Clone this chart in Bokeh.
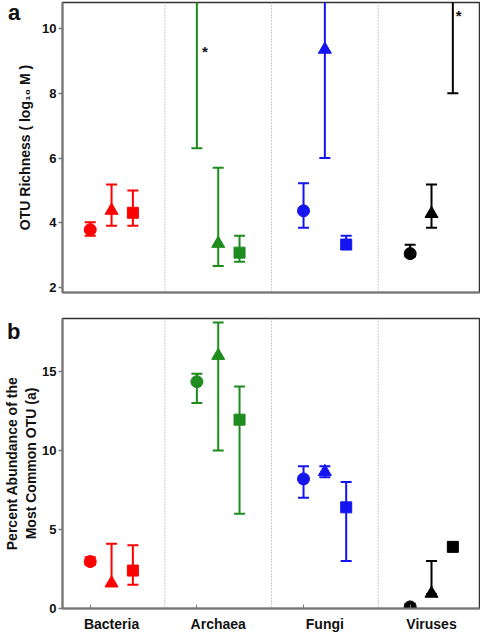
from bokeh.plotting import figure
from bokeh.models import Range1d, FixedTicker, Span, Label, ColumnDataSource, Div
from bokeh.layouts import column
from bokeh.embed import file_html
from bokeh.resources import INLINE

categories = ["Bacteria", "Archaea", "Fungi", "Viruses"]
colors = ["#ff0000", "#1e8c1e", "#1414f0", "#000000"]

# Panel a: OTU richness (log10 M) -- circle / triangle / square series
a_circle = [3.79, 12.0, 4.37, 3.05]
a_circle_lo = [3.60, 6.30, 3.85, 2.95]
a_circle_hi = [4.02, 14.0, 5.22, 3.32]
a_triangle = [4.38, 3.36, 9.35, 4.28]
a_triangle_lo = [3.91, 2.67, 6.00, 3.85]
a_triangle_hi = [5.18, 5.70, 12.5, 5.18]
a_square = [4.31, 3.08, 3.33, 11.5]
a_square_lo = [3.91, 2.80, 3.20, 8.00]
a_square_hi = [5.00, 3.60, 3.60, 13.0]
a_yticks = [2, 4, 6, 8, 10]

# Panel b: percent abundance of most common OTU (a)
b_circle = [2.97, 14.35, 8.20, 0.10]
b_circle_lo = [2.75, 13.00, 7.00, 0.00]
b_circle_hi = [3.25, 14.85, 9.00, 0.30]
b_triangle = [1.60, 16.00, 8.65, 0.95]
b_triangle_lo = [1.50, 10.00, 8.30, 0.90]
b_triangle_hi = [4.10, 18.10, 9.00, 3.00]
b_square = [2.40, 11.95, 6.40, 3.90]
b_square_lo = [1.50, 6.00, 3.00, 3.90]
b_square_hi = [4.00, 14.05, 8.00, 3.90]
b_yticks = [0, 5, 10, 15]

FONT = "Liberation Sans"
offsets = [-0.2, 0.0, 0.2]
markers = ["circle", "triangle", "square"]
msizes = [12, 13, 11]


def make_panel(series, yrange, yticks, height, border_top, border_bottom, ylabel,
               label_size, label_standoff, show_x):
    p = figure(width=480, height=height, output_backend="svg", toolbar_location=None,
               x_range=Range1d(-0.46, 3.45), y_range=Range1d(*yrange),
               min_border_left=62, min_border_right=1, min_border_top=border_top,
               min_border_bottom=border_bottom)
    p.xgrid.visible = False
    p.ygrid.visible = False
    p.outline_line_color = "#333333"
    p.outline_line_width = 1.5

    for loc in [0.5, 1.5, 2.5]:
        p.add_layout(Span(location=loc, dimension="height", line_color="#999999",
                          line_dash="1 2", line_width=1))

    for k, (vals, lo, hi) in enumerate(series):
        src = ColumnDataSource(dict(
            x=[i + offsets[k] for i in range(len(categories))],
            y=vals, lo=lo, hi=hi, color=colors))
        p.segment(x0="x", y0="lo", x1="x", y1="hi", line_color="color", line_width=2, source=src)
        p.scatter(x="x", y="lo", marker="dash", size=11, line_color="color", line_width=2, source=src)
        p.scatter(x="x", y="hi", marker="dash", size=11, line_color="color", line_width=2, source=src)
        p.scatter(x="x", y="y", marker=markers[k], size=msizes[k], fill_color="color",
                  line_color="color", source=src)

    p.yaxis.ticker = FixedTicker(ticks=yticks)
    p.yaxis.axis_line_color = "#777777"
    p.yaxis.axis_line_width = 2
    p.yaxis.major_tick_line_color = "#777777"
    p.yaxis.major_tick_line_width = 1.5
    p.yaxis.major_tick_out = 4
    p.yaxis.major_tick_in = 0
    p.yaxis.minor_tick_line_color = None
    p.yaxis.major_label_text_font = FONT
    p.yaxis.major_label_text_font_style = "bold"
    p.yaxis.major_label_text_font_size = "13px"
    p.yaxis.major_label_text_color = "#111111"
    p.yaxis.major_label_standoff = 2
    p.yaxis.axis_label = ylabel
    p.yaxis.axis_label_text_font = FONT
    p.yaxis.axis_label_text_font_style = "bold"
    p.yaxis.axis_label_text_font_size = label_size
    p.yaxis.axis_label_text_color = "#111111"
    p.yaxis.axis_label_standoff = label_standoff

    p.xaxis.axis_line_color = "#777777"
    p.xaxis.axis_line_width = 2
    if show_x:
        p.xaxis.ticker = FixedTicker(ticks=[0, 1, 2, 3], minor_ticks=[-0.2, 0.8, 1.8, 2.8])
        p.xaxis.major_label_overrides = {i: c for i, c in enumerate(categories)}
        p.xaxis.major_tick_line_color = None
        p.xaxis.minor_tick_in = 4
        p.xaxis.minor_tick_out = 0
        p.xaxis.minor_tick_line_color = "#777777"
        p.xaxis.major_label_text_font = FONT
        p.xaxis.major_label_text_font_style = "bold"
        p.xaxis.major_label_text_font_size = "14px"
        p.xaxis.major_label_text_color = "#111111"
        p.xaxis.major_label_standoff = 1
    else:
        p.xaxis.ticker = FixedTicker(ticks=[])
        p.xaxis.major_tick_line_color = None
        p.xaxis.minor_tick_line_color = None
    return p


pa = make_panel([(a_circle, a_circle_lo, a_circle_hi),
                 (a_triangle, a_triangle_lo, a_triangle_hi),
                 (a_square, a_square_lo, a_square_hi)],
                (1.85, 10.8), a_yticks, 300, 2, 8, "OTU Richness ( log\u2081\u2080 M )",
                "14px", 6, False)
pb = make_panel([(b_circle, b_circle_lo, b_circle_hi),
                 (b_triangle, b_triangle_lo, b_triangle_hi),
                 (b_square, b_square_lo, b_square_hi)],
                (0, 18.35), b_yticks, 334, 18, 25,
                "Percent Abundance of the\nMost Common OTU (a)", "14px", 0, True)

pa.add_layout(Label(x=0.8, y=9.3, x_offset=5, text="*", text_font=FONT, text_font_style="bold",
                    text_font_size="15px", text_baseline="middle", text_color="#111111"))
pa.add_layout(Label(x=3.2, y=10.4, x_offset=3, text="*", text_font=FONT, text_font_style="bold",
                    text_font_size="15px", text_baseline="middle", text_color="#111111"))

letter_style = {"position": "absolute", "font-family": FONT, "font-weight": "bold",
                "font-size": "22px", "line-height": "1", "color": "#111111"}
div_a = Div(text="a", width=20, height=24, styles=dict(letter_style, left="3px", top="-3px"))
div_b = Div(text="b", width=20, height=24, styles=dict(letter_style, left="2px", top="316px"))

layout = column(pa, pb, div_a, div_b, spacing=0)
open("out.html", "w").write(file_html(layout, INLINE))
